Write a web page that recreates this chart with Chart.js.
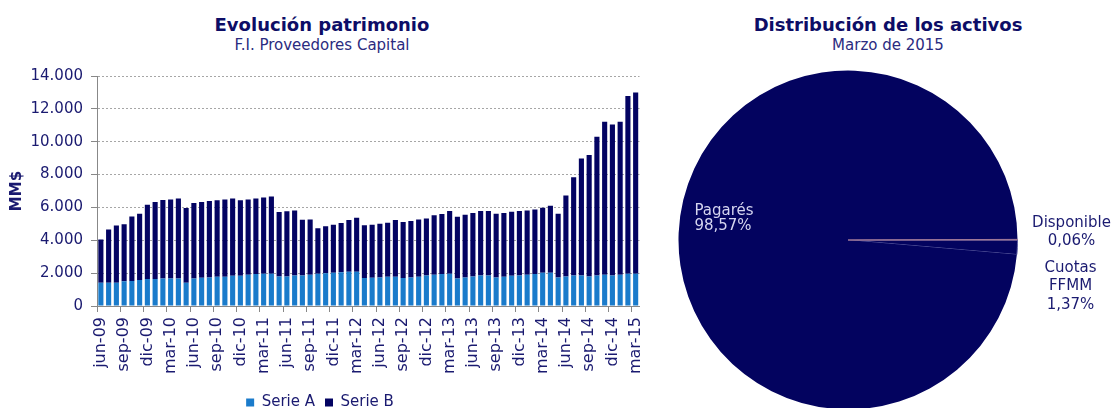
<!DOCTYPE html>
<html>
<head>
<meta charset="utf-8">
<script src="https://cdn.jsdelivr.net/npm/chart.js@4.4.0/dist/chart.umd.min.js"></script>
<style>
  body { margin: 0; width: 1117px; height: 408px; overflow: hidden; background: #fff; font-family: "DejaVu Sans", sans-serif; }
  .titulo { position: absolute; text-align: center; color: #0d0d66; }
  .titulo b { display: block; font-size: 18px; line-height: 20px; }
  .titulo span { display: block; font-size: 15px; line-height: 20px; color: #2b2b80; }
  .caja { position: absolute; top: 0; }
</style>
</head>
<body>
<div class="titulo" style="left:122px;top:15px;width:400px"><b>Evolución patrimonio</b><span>F.I. Proveedores Capital</span></div>
<div class="titulo" style="left:688px;top:15px;width:400px"><b>Distribución de los activos</b><span>Marzo de 2015</span></div>
<div class="caja" style="left:0"><canvas id="barras" width="660" height="420"></canvas></div>
<div class="caja" style="left:660px"><canvas id="torta" width="457" height="420"></canvas></div>
<script>
// etiquetas mensuales jun-09 .. mar-15
const meses = ["ene", "feb", "mar", "abr", "may", "jun", "jul", "ago", "sep", "oct", "nov", "dic"];
const labels = [];
for (let i = 0; i < 70; i++) {
  const m = (5 + i) % 12;
  const y = 9 + Math.floor((5 + i) / 12);
  labels.push(meses[m] + "-" + String(y).padStart(2, "0"));
}

// MM$
const serieA = [
  1420, 1420, 1420, 1500, 1520, 1580, 1640, 1640, 1680, 1680, 1680, 1420,
  1680, 1720, 1740, 1780, 1780, 1840, 1840, 1900, 1950, 1970, 1970, 1800,
  1800, 1860, 1860, 1900, 1970, 1990, 2030, 2050, 2090, 2090, 1700, 1720,
  1740, 1780, 1780, 1700, 1740, 1780, 1860, 1900, 1950, 1970, 1680, 1740,
  1800, 1860, 1860, 1740, 1780, 1840, 1860, 1900, 1950, 2030, 2030, 1740,
  1800, 1860, 1860, 1800, 1860, 1900, 1860, 1900, 1970, 1970,
];
const serieB = [
  2630, 3240, 3480, 3470, 3930, 4040, 4520, 4690, 4770, 4810, 4870, 4540,
  4590, 4610, 4650, 4650, 4710, 4710, 4590, 4590, 4600, 4640, 4700, 3920,
  3960, 3960, 3390, 3370, 2760, 2860, 2920, 3000, 3140, 3280, 3210, 3230,
  3270, 3290, 3450, 3410, 3430, 3490, 3470, 3620, 3650, 3810, 3750, 3820,
  3860, 3920, 3920, 3880, 3880, 3900, 3920, 3920, 3930, 3950, 4070, 3880,
  4930, 5970, 7120, 7390, 8440, 9320, 9190, 9320, 10810, 11030,
];

const pieLabels = ["Cuotas FFMM", "Pagarés", "Disponible"];
const pieValues = [1.37, 98.57, 0.06];

const fuente = "DejaVu Sans";
const azul = "#1a1a70";
const miles = (v) => v.toString().replace(/\B(?=(\d{3})+(?!\d))/g, ".");

new Chart(document.getElementById("barras"), {
  type: "bar",
  data: {
    labels: labels,
    datasets: [
      { label: "Serie A", data: serieA, backgroundColor: "#1a7bcb", barPercentage: 0.66, categoryPercentage: 1 },
      { label: "Serie B", data: serieB, backgroundColor: "#030362", barPercentage: 0.66, categoryPercentage: 1 },
    ],
  },
  options: {
    responsive: false,
    animation: false,
    layout: { padding: { top: 76, right: 20, left: 0, bottom: 0 } },
    plugins: {
      legend: {
        position: "bottom",
        labels: { boxWidth: 8, boxHeight: 8, color: azul, padding: 10, font: { family: fuente, size: 15 } },
      },
      tooltip: { enabled: false },
    },
    scales: {
      x: {
        stacked: true,
        grid: {
          drawOnChartArea: false,
          tickLength: 6,
          color: (c) => (c.index % 3 === 0 ? "#888" : "rgba(0,0,0,0)"),
        },
        border: { color: "#888" },
        ticks: {
          autoSkip: false,
          minRotation: 90,
          maxRotation: 90,
          padding: 5,
          color: azul,
          font: { family: fuente, size: 16 },
          callback: function (v, i) {
            return i % 3 === 0 ? this.getLabelForValue(v) : "";
          },
        },
        afterFit: (s) => {
          s.height = s.chart.height - 306 - (s.chart.legend ? s.chart.legend.height : 0);
        },
      },
      y: {
        stacked: true,
        min: 0,
        max: 14000,
        grid: { color: "#a6a6a6", tickLength: 6, tickColor: "#888", tickBorderDash: [] },
        border: { dash: [2, 2], color: "#888" },
        ticks: {
          stepSize: 2000,
          padding: 8,
          color: azul,
          font: { family: fuente, size: 15 },
          callback: (v) => miles(v),
        },
        title: { display: true, text: "MM$", color: azul, padding: { top: 8, bottom: 0 }, font: { family: fuente, size: 15, weight: "bold" } },
        afterFit: (s) => {
          s.width = 97;
        },
      },
    },
  },
});

// textos de la torta
const etiquetasTorta = {
  id: "etiquetasTorta",
  afterDraw(chart) {
    const arc = chart.getDatasetMeta(0).data[0];
    const cx = arc.x, cy = arc.y, r = arc.outerRadius;
    const pct = (v) => v.toFixed(2).replace(".", ",") + "%";
    const ctx = chart.ctx;
    ctx.save();
    ctx.font = "15px " + fuente;
    ctx.textBaseline = "middle";

    ctx.fillStyle = "#d6d6f0";
    ctx.textAlign = "left";
    ctx.fillText(pieLabels[1], cx - 0.906 * r, cy - 29);
    ctx.fillText(pct(pieValues[1]), cx - 0.906 * r, cy - 14);

    ctx.fillStyle = azul;
    ctx.textAlign = "center";
    ctx.fillText(pieLabels[2], cx + r + 54, cy - 17);
    ctx.fillText(pct(pieValues[2]), cx + r + 54, cy + 1);

    const partes = pieLabels[0].split(" ");
    ctx.fillText(partes[0], cx + r + 53, cy + 28);
    ctx.fillText(partes[1], cx + r + 53, cy + 46);
    ctx.fillText(pct(pieValues[0]), cx + r + 53, cy + 65);
    ctx.restore();
  },
};

new Chart(document.getElementById("torta"), {
  type: "pie",
  data: {
    labels: pieLabels,
    datasets: [
      {
        data: pieValues,
        backgroundColor: ["#03035f", "#03035f", "#03035f"],
        borderColor: ["#5a5aa0", "#03035f", "#a07898"],
        borderWidth: [1, 0, 1],
      },
    ],
  },
  options: {
    responsive: false,
    animation: false,
    rotation: 90,
    layout: { padding: { left: 18, right: 99, top: 70, bottom: 10 } },
    plugins: { legend: { display: false }, tooltip: { enabled: false } },
  },
  plugins: [etiquetasTorta],
});
</script>
</body>
</html>
